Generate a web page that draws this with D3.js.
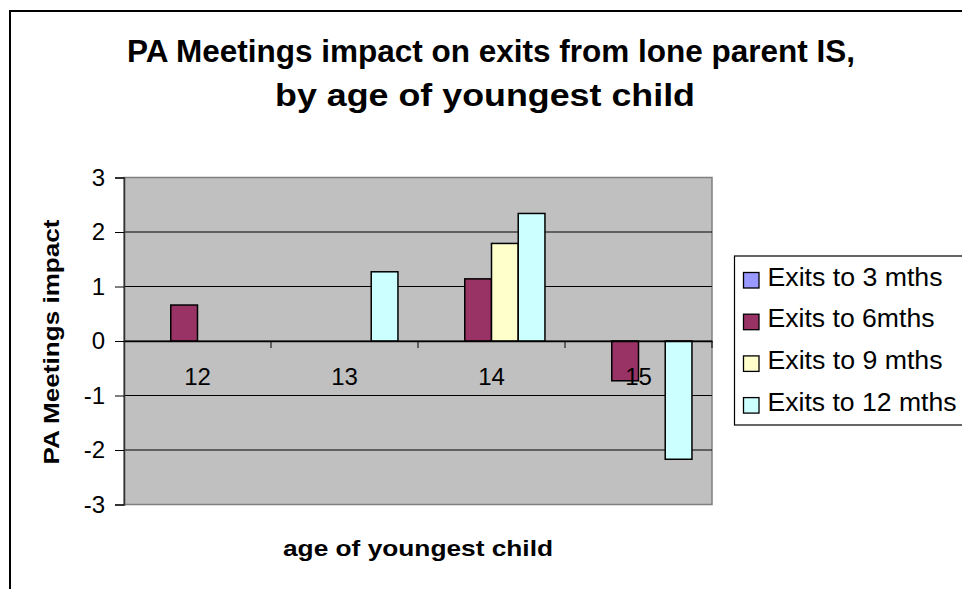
<!DOCTYPE html>
<html>
<head>
<meta charset="utf-8">
<script src="https://cdn.jsdelivr.net/npm/d3@7/dist/d3.min.js"></script>
<style>
  html, body { margin: 0; padding: 0; background: #ffffff; }
  svg { display: block; font-family: Arial, "Liberation Sans", sans-serif; }
</style>
</head>
<body>
<svg id="chart" width="962" height="589"></svg>
<script>
// Age of youngest child (category axis)
const categories = ["12", "13", "14", "15"];
// Series names shown in the legend
const seriesNames = ["Exits to 3 mths", "Exits to 6mths", "Exits to 9 mths", "Exits to 12 mths"];
const seriesColors = ["#9999FF", "#993366", "#FFFFCC", "#CCFFFF"];
// Impact values per series, one entry per category (null = no bar)
const exits3 = [null, null, null, null];
const exits6 = [0.66, null, 1.14, -0.73];
const exits9 = [null, null, 1.79, null];
const exits12 = [null, 1.27, 2.34, -2.17];
const yTicks = [-3, -2, -1, 0, 1, 2, 3];

const seriesValues = [exits3, exits6, exits9, exits12];

const svg = d3.select("#chart");

// Outer chart frame
svg.append("rect")
  .attr("x", 10).attr("y", 11).attr("width", 1000).attr("height", 1000)
  .attr("fill", "#ffffff").attr("stroke", "#000000").attr("stroke-width", 2);

const plot = { left: 124, right: 712, top: 177.5, bottom: 504.5 };

const x0 = d3.scaleBand().domain(categories).range([plot.left, plot.right]).paddingInner(0).paddingOuter(0);
const x1 = d3.scaleBand().domain(seriesNames).range([0, x0.bandwidth()]).paddingInner(0).paddingOuter(0.75);
const y = d3.scaleLinear().domain([-3, 3]).range([plot.bottom, plot.top]);

// Plot area
svg.append("rect")
  .attr("x", plot.left).attr("y", plot.top)
  .attr("width", plot.right - plot.left).attr("height", plot.bottom - plot.top)
  .attr("fill", "#C0C0C0").attr("stroke", "#808080").attr("stroke-width", 1.5);

// Horizontal gridlines
svg.append("g").selectAll("line")
  .data(yTicks.filter(t => t !== 3 && t !== -3))
  .join("line")
  .attr("x1", plot.left).attr("x2", plot.right)
  .attr("y1", d => y(d)).attr("y2", d => y(d))
  .attr("stroke", "#000000").attr("stroke-width", 1);

// Y axis
const yAxis = d3.axisLeft(y).tickValues(yTicks).tickSize(9).tickPadding(10).tickFormat(d => String(d));
const yg = svg.append("g").attr("transform", `translate(${plot.left},0)`).call(yAxis);
yg.attr("font-size", 24).attr("font-family", null);
yg.select(".domain").attr("stroke", "#333333").attr("stroke-width", 1.5);
yg.selectAll(".tick line").attr("stroke", "#000000");
yg.selectAll("text").attr("font-size", 24).attr("fill", "#000000");

// Bars
const groups = svg.append("g").selectAll("g")
  .data(categories)
  .join("g")
  .attr("transform", d => `translate(${x0(d)},0)`);

groups.selectAll("rect")
  .data((c, ci) => seriesNames.map((s, si) => ({ s, si, v: seriesValues[si][ci] })).filter(d => d.v !== null))
  .join("rect")
  .attr("x", d => x1(d.s))
  .attr("width", x1.bandwidth())
  .attr("y", d => y(Math.max(0, d.v)))
  .attr("height", d => Math.abs(y(d.v) - y(0)))
  .attr("fill", d => seriesColors[d.si])
  .attr("stroke", "#000000").attr("stroke-width", 1.5);

// Category axis at zero
const xAxis = d3.axisBottom(x0).tickSize(0).tickPadding(27);
const xg = svg.append("g").attr("transform", `translate(0,${y(0)})`).call(xAxis);
xg.attr("font-size", 24).attr("font-family", null);
xg.select(".domain").attr("stroke", "#000000").attr("stroke-width", 1.5);
xg.selectAll("text").attr("font-size", 24).attr("fill", "#000000");
// Tick marks between categories
xg.append("g").selectAll("line")
  .data(categories.slice(1).concat(["end"]))
  .join("line")
  .attr("x1", d => d === "end" ? plot.right : x0(d))
  .attr("x2", d => d === "end" ? plot.right : x0(d))
  .attr("y1", 0).attr("y2", 7)
  .attr("stroke", "#000000").attr("stroke-width", 1);

// Title
const title = svg.append("g").attr("font-weight", "bold").attr("font-size", 32).attr("text-anchor", "middle");
title.append("text").attr("x", 491).attr("y", 62)
  .attr("textLength", 728).attr("lengthAdjust", "spacingAndGlyphs")
  .text("PA Meetings impact on exits from lone parent IS,");
title.append("text").attr("x", 485).attr("y", 106)
  .attr("textLength", 420).attr("lengthAdjust", "spacingAndGlyphs")
  .text("by age of youngest child");

// Axis titles
svg.append("text")
  .attr("transform", "translate(59,342) rotate(-90)")
  .attr("text-anchor", "middle").attr("font-weight", "bold").attr("font-size", 22)
  .attr("textLength", 245).attr("lengthAdjust", "spacingAndGlyphs")
  .text("PA Meetings impact");

svg.append("text")
  .attr("x", (plot.left + plot.right) / 2).attr("y", 556)
  .attr("text-anchor", "middle").attr("font-weight", "bold").attr("font-size", 22)
  .attr("textLength", 270).attr("lengthAdjust", "spacingAndGlyphs")
  .text("age of youngest child");

// Legend
const legend = svg.append("g").attr("transform", "translate(734.5,256)");
legend.append("rect").attr("width", 300).attr("height", 169)
  .attr("fill", "#ffffff").attr("stroke", "#000000").attr("stroke-width", 1.2);
const items = legend.selectAll("g.item")
  .data(seriesNames)
  .join("g").attr("class", "item")
  .attr("transform", (d, i) => `translate(0,${i * 41.7})`);
items.append("rect")
  .attr("x", 9).attr("y", 16.5).attr("width", 15.5).attr("height", 15.5)
  .attr("fill", (d, i) => seriesColors[i]).attr("stroke", "#000000").attr("stroke-width", 1.3);
items.append("text")
  .attr("x", 33).attr("y", 29.5).attr("font-size", 25)
  .attr("textLength", (d, i) => [175, 167, 175, 189][i]).attr("lengthAdjust", "spacingAndGlyphs")
  .text(d => d);
</script>
</body>
</html>
